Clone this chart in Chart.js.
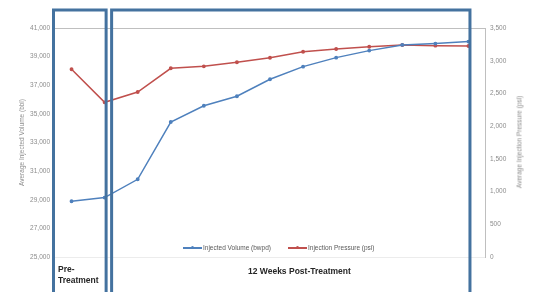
<!DOCTYPE html>
<html lang="en">
<head>
    <meta charset="UTF-8">
    <title>Injected Volume and Injection Pressure</title>
    <script src="https://cdn.jsdelivr.net/npm/chart.js"></script>
    <style>
        body { margin: 0; background: #fff; }
        #wrap { position: relative; width: 536px; height: 292px; overflow: hidden; }
        .lbl { position: absolute; font-family: "Liberation Sans", Arial, sans-serif; font-weight: bold; color: #262626; white-space: nowrap; }
        .leg { position: absolute; top: 243px; font-family: "Liberation Sans", Arial, sans-serif; font-size: 6.5px; color: #595959; white-space: nowrap; line-height: 10px; }
        .leg i { display: inline-block; width: 19px; height: 2px; vertical-align: middle; position: relative; margin-right: 1px; }
        .leg i b { position: absolute; left: 8px; top: -1px; width: 3px; height: 3px; border-radius: 2px; background: inherit; }
        #rtitle { position: absolute; left: 519px; top: 142px; width: 0; height: 0; }
        #rtitle span { position: absolute; left: 0; top: 0; transform: translate(-50%, -50%) rotate(-90deg);
            font-family: "Liberation Sans", Arial, sans-serif; font-size: 6.5px; color: #8c8c8c; white-space: nowrap; }
    </style>
</head>
<body>
    <div id="wrap">
        <canvas id="myChart" width="536" height="292"></canvas>
        <div id="rtitle"><span>Average Injection Pressure (psi)</span></div>
        <div class="leg" style="left:183px"><i style="background:#4f81bd"><b></b></i>Injected Volume (bwpd)</div>
        <div class="leg" style="left:288px"><i style="background:#c0504d"><b></b></i>Injection Pressure (psi)</div>
        <div class="lbl" style="left:58px; top:264px; font-size:8.5px; line-height:11px">Pre-<br>Treatment</div>
        <div class="lbl" style="left:248px; top:266px; font-size:8.5px">12 Weeks Post-Treatment</div>
    </div>

    <script>
        // data (2 weeks pre, 11 weeks post)
        const weeks = ['-2', '-1', '1', '2', '3', '4', '5', '6', '7', '8', '9', '10', '11'];
        const injectedVolume = [28900, 29150, 30430, 34430, 35570, 36230, 37420, 38300, 38930, 39420, 39820, 39910, 40050];
        const injectionPressure = [2870, 2364, 2522, 2884, 2914, 2976, 3046, 3138, 3179, 3214, 3240, 3230, 3225];
        const volumeTicks = [25000, 41000, 2000];   // min, max, step
        const pressureTicks = [0, 3500, 500];

        const tickFont = { family: 'Liberation Sans', size: 6.5 };

        // the two blue boxes around pre / post treatment
        const boxesPlugin = {
            id: 'boxes',
            afterDraw(chart) {
                const ctx = chart.ctx;
                const x = chart.scales.x;
                const left1 = chart.chartArea.left - 1.5;
                const right1 = x.getPixelForValue(1) + 1.5;
                const left2 = right1 + 5.5;
                const right2 = x.getPixelForValue(12) + 1.5;
                ctx.save();
                ctx.strokeStyle = '#44729f';
                ctx.lineWidth = 3;
                ctx.strokeRect(left1, 10, right1 - left1, 300);
                ctx.strokeRect(left2, 10, right2 - left2, 300);
                ctx.restore();
            }
        };

        new Chart(document.getElementById('myChart'), {
            type: 'line',
            data: {
                labels: weeks,
                datasets: [{
                    label: 'Injected Volume (bwpd)',
                    data: injectedVolume,
                    yAxisID: 'yVol',
                    borderColor: '#4f81bd',
                    backgroundColor: '#4f81bd',
                    borderWidth: 1.5,
                    pointRadius: 1.2,
                    tension: 0
                }, {
                    label: 'Injection Pressure (psi)',
                    data: injectionPressure,
                    yAxisID: 'yPress',
                    borderColor: '#c0504d',
                    backgroundColor: '#c0504d',
                    borderWidth: 1.5,
                    pointRadius: 1.2,
                    tension: 0
                }]
            },
            options: {
                responsive: false,
                animation: false,
                layout: { padding: { top: 28 } },
                plugins: { legend: { display: false }, tooltip: { enabled: false } },
                scales: {
                    x: {
                        offset: true,
                        ticks: { display: false },
                        grid: { display: false, drawTicks: false },
                        border: { display: true, color: '#ececec' },
                        afterFit: s => { s.height = 35; }
                    },
                    yVol: {
                        position: 'left',
                        min: volumeTicks[0], max: volumeTicks[1],
                        ticks: { stepSize: volumeTicks[2], font: tickFont, color: '#8c8c8c', padding: 5 },
                        grid: {
                            drawTicks: false,
                            color: c => c.tick.value === volumeTicks[1] ? '#bfbfbf' : 'rgba(0,0,0,0)'
                        },
                        border: { display: false },
                        title: { display: true, text: 'Average Injected Volume (bbl)', font: tickFont, color: '#8c8c8c', padding: { top: 18 } },
                        afterFit: s => { s.width = 55; }
                    },
                    yPress: {
                        position: 'right',
                        min: pressureTicks[0], max: pressureTicks[1],
                        ticks: { stepSize: pressureTicks[2], font: tickFont, color: '#8c8c8c', padding: 5 },
                        grid: { display: false, drawTicks: false },
                        border: { display: true, color: '#bfbfbf' },
                        afterFit: s => { s.width = 51; }
                    }
                }
            },
            plugins: [boxesPlugin]
        });
    </script>
</body>
</html>
